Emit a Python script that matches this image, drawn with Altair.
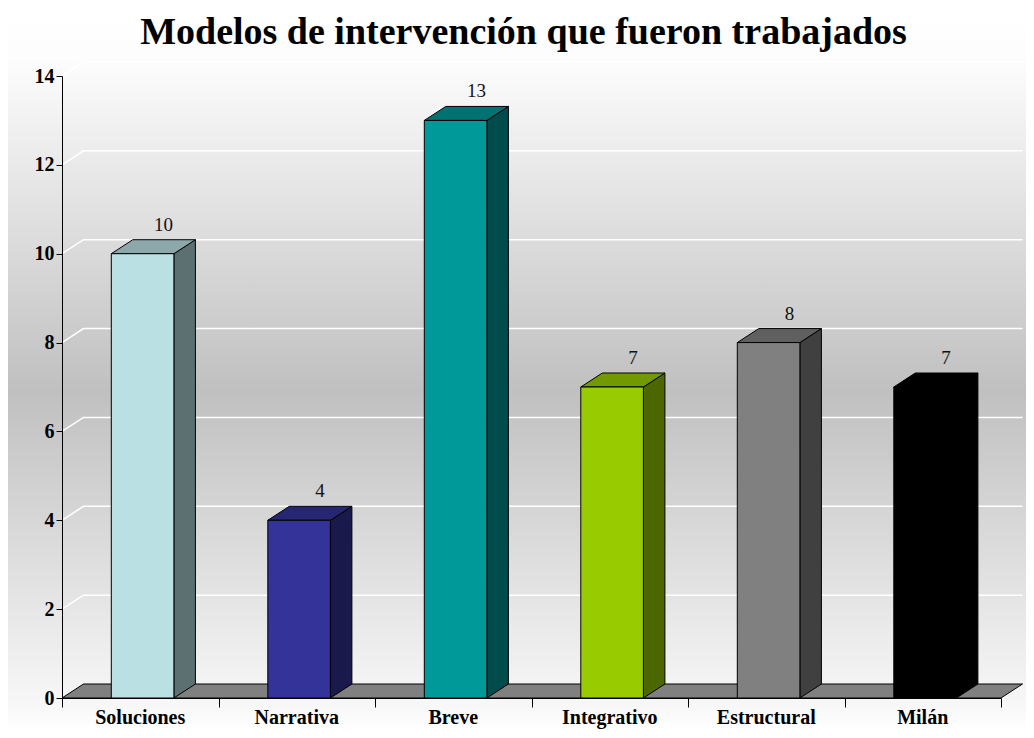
import altair as alt
import pandas as pd

# ---- data ----
CATEGORIES = ["Soluciones", "Narrativa", "Breve", "Integrativo", "Estructural", "Milán"]
VALUES = [10, 4, 13, 7, 8, 7]
Y_TICKS = [0, 2, 4, 6, 8, 10, 12, 14]
TITLE = "Modelos de intervención que fueron trabajados"

# ---- styles ----
COLORS = ["#BBE0E3", "#333399", "#009999", "#99CC00", "#808080", "#000000"]
FONT = "Liberation Serif"
W, H = 939, 622
YMAX = 14
DX_PX, DY_PX = 21.5, 14.0
N = len(CATEGORIES)
dxu = DX_PX / (W / N)
dyu = DY_PX / (H / YMAX)
FACE = 0.4
SHIFT = 0.015
PAD_L, PAD_T, PAD_R, PAD_B = 54, 68, 25, 32


def shade(hex_color, f):
    h = hex_color.lstrip("#")
    r, g, b = (int(h[i:i + 2], 16) for i in (0, 2, 4))
    return "#%02x%02x%02x" % (int(r * f), int(g * f), int(b * f))


front_rows, side_rows, top_rows = [], [], []
for i, (name, v, c) in enumerate(zip(CATEGORIES, VALUES, COLORS)):
    xl = i + 0.5 + SHIFT - FACE / 2
    xr = xl + FACE
    front_rows.append(dict(name=name, xl=xl, xr=xr, xc=i + 0.5, v=v, vt=v + dyu,
                           xlab=(xl + xr) / 2, color=c))
    side_rows += [
        dict(name=name, x=xr, y=v, y2=0, color=shade(c, 0.5)),
        dict(name=name, x=xr + dxu, y=v + dyu, y2=dyu, color=shade(c, 0.5)),
    ]
    top_rows += [
        dict(name=name, y=v, x=xl, x2=xr, color=shade(c, 0.75)),
        dict(name=name, y=v + dyu, x=xl + dxu, x2=xr + dxu, color=shade(c, 0.75)),
    ]
front = pd.DataFrame(front_rows)
side = pd.DataFrame(side_rows)
top = pd.DataFrame(top_rows)

floor = pd.DataFrame([dict(g="f", y=0, x=0, x2=N), dict(g="f", y=dyu, x=dxu, x2=N + dxu)])

grid_rows = []
for v in Y_TICKS[1:]:
    grid_rows += [
        dict(v=v, k=0, x=0, y=v),
        dict(v=v, k=1, x=dxu, y=v + dyu),
        dict(v=v, k=2, x=N + dxu, y=v + dyu),
    ]
grid = pd.DataFrame(grid_rows)

XS = alt.Scale(domain=[0, N], nice=False, zero=False)
YS = alt.Scale(domain=[0, YMAX], nice=False, zero=True)
XAX = alt.Axis(values=list(range(N + 1)), labels=False, tickSize=9,
               grid=False, domain=True, zindex=2, title=None)
YAX = alt.Axis(values=Y_TICKS, tickSize=6, grid=False, domain=True,
               labelPadding=2, zindex=2, title=None)


def X(field, **kw):
    return alt.X(field, scale=XS, axis=XAX, title=None, **kw)


def Y(field, **kw):
    return alt.Y(field, scale=YS, axis=YAX, title=None, **kw)


one = pd.DataFrame({"a": [0]})

bg = alt.Chart(one).mark_rect(
    fill=alt.Gradient(
        gradient="linear", x1=0, y1=0, x2=0, y2=1,
        stops=[
            alt.GradientStop(offset=0, color="#ffffff"),
            alt.GradientStop(offset=0.07, color="#fdfdfd"),
            alt.GradientStop(offset=0.53, color="#c0c0c0"),
            alt.GradientStop(offset=0.97, color="#f8f8f8"),
            alt.GradientStop(offset=1, color="#ffffff"),
        ],
    )
).encode(
    x=alt.value(-PAD_L), x2=alt.value(W + PAD_R),
    y=alt.value(-PAD_T), y2=alt.value(H + PAD_B),
)

grid_layer = alt.Chart(grid).mark_line(color="#ffffff", strokeWidth=1.5).encode(
    x=X("x:Q"),
    y=Y("y:Q"),
    detail="v:N",
    order="k:Q",
)

floor_layer = alt.Chart(floor).mark_area(
    orient="horizontal", fill="#808080", stroke="#000000", strokeWidth=1
).encode(
    y=Y("y:Q"),
    x=X("x:Q", stack=False),
    x2="x2:Q",
    detail="g:N",
)

side_layer = alt.Chart(side).mark_area(
    orient="vertical", stroke="#000000", strokeWidth=1
).encode(
    x=X("x:Q"),
    y=Y("y:Q", stack=False),
    y2="y2:Q",
    detail="name:N",
    fill=alt.Fill("color:N", scale=None),
)

top_layer = alt.Chart(top).mark_area(
    orient="horizontal", stroke="#000000", strokeWidth=1
).encode(
    y=Y("y:Q"),
    x=X("x:Q", stack=False),
    x2="x2:Q",
    detail="name:N",
    fill=alt.Fill("color:N", scale=None),
)

front_layer = alt.Chart(front).mark_rect(stroke="#000000", strokeWidth=1).encode(
    x=X("xl:Q"),
    x2="xr:Q",
    y=Y("v:Q"),
    y2=alt.datum(0),
    fill=alt.Fill("color:N", scale=None),
)

value_labels = alt.Chart(front).mark_text(
    font=FONT, fontSize=19, color="#111111", baseline="bottom", dx=21, dy=-5
).encode(
    x=X("xlab:Q"),
    y=Y("vt:Q"),
    text="v:Q",
)

cat_labels = alt.Chart(front).mark_text(
    font=FONT, fontSize=20, fontWeight="bold", color="#000000", baseline="top"
).encode(
    x=X("xc:Q"),
    y=alt.value(H + 10),
    text="name:N",
)

title_layer = alt.Chart(one).mark_text(
    font=FONT, fontSize=38, fontWeight="bold", color="#000000",
    baseline="alphabetic", align="center",
).encode(
    x=alt.value(W / 2 - 8),
    y=alt.value(44 - 8 - PAD_T),
    text=alt.value(TITLE),
)

chart = alt.layer(
    bg, grid_layer, floor_layer, side_layer, top_layer, front_layer,
    value_labels, cat_labels, title_layer,
).properties(
    width=W, height=H,
    autosize=alt.AutoSizeParams(type="none"),
    padding={"left": PAD_L, "top": PAD_T, "right": PAD_R, "bottom": PAD_B},
).configure_view(stroke=None).configure_axis(
    labelFont=FONT, labelFontSize=20, labelFontWeight="bold", labelColor="#000000",
    domainColor="#000000", tickColor="#000000", domainWidth=1, tickWidth=1,
)

chart.save("out.html", embed_options={"renderer": "svg", "actions": False})
